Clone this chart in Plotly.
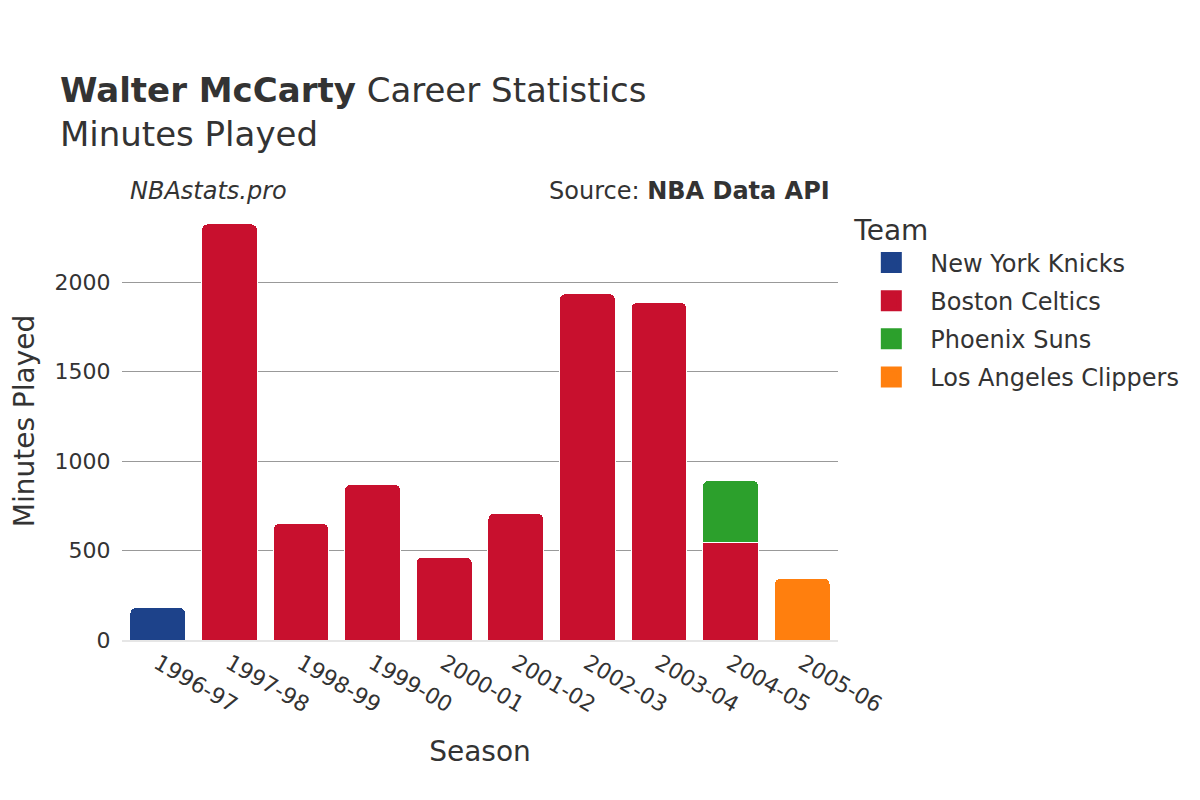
import plotly.graph_objects as go

seasons = ["1996-97", "1997-98", "1998-99", "1999-00", "2000-01",
           "2001-02", "2002-03", "2003-04", "2004-05", "2005-06"]

knicks_seasons = ["1996-97"]
knicks_min = [182]

celtics_seasons = ["1997-98", "1998-99", "1999-00", "2000-01", "2001-02",
                   "2002-03", "2003-04", "2004-05"]
celtics_min = [2327, 651, 871, 464, 708, 1937, 1888, 546]

suns_seasons = ["2004-05"]
suns_min = [348]

clippers_seasons = ["2005-06"]
clippers_min = [345]

teams = ["New York Knicks", "Boston Celtics", "Phoenix Suns", "Los Angeles Clippers"]
colors = ["#1d428a", "#c8102e", "#2ca02c", "#ff7f0e"]

series = [(knicks_seasons, knicks_min), (celtics_seasons, celtics_min),
          (suns_seasons, suns_min), (clippers_seasons, clippers_min)]

fig = go.Figure()
for name, color, (xs, ys) in zip(teams, colors, series):
    fig.add_trace(go.Bar(
        x=xs, y=ys, name=name, legendgroup=name, showlegend=False,
        marker=dict(color=color, cornerradius=6, line=dict(width=1, color="white")),
    ))
# legend entries with larger square symbols
for name, color in zip(teams, colors):
    fig.add_trace(go.Scatter(
        x=[None], y=[None], name=name, legendgroup=name, mode="markers",
        marker=dict(symbol="square", size=16, color=color,
                    line=dict(width=5, color=color)),
        hoverinfo="skip",
    ))

font_family = "DejaVu Sans"
fig.update_layout(
    barmode="stack",
    bargap=0.22,
    width=1200, height=800,
    paper_bgcolor="white", plot_bgcolor="white",
    font=dict(family=font_family, color="#333333", size=22),
    margin=dict(l=114, r=370, t=194, b=168),
    title=dict(
        text="<b>Walter McCarty</b> Career Statistics<br>Minutes Played",
        x=0.0433, xanchor="left", y=0.883, yanchor="top",
        font=dict(size=34, family=font_family, color="#333333"),
    ),
    legend=dict(
        title=dict(text="Team", font=dict(size=28)),
        font=dict(size=24),
        x=1.02, xanchor="left", y=0.9955, yanchor="top",
        traceorder="grouped", tracegroupgap=4, itemsizing="trace",
        itemwidth=68,
    ),
    xaxis=dict(
        title=dict(text="Season", font=dict(size=28), standoff=25),
        categoryorder="array", categoryarray=seasons,
        tickangle=30, tickfont=dict(size=22),
        showgrid=False, showline=True, linecolor="#e6e6e6", linewidth=2,
        automargin=False,
    ),
    yaxis=dict(
        title=dict(text="Minutes Played", font=dict(size=28), standoff=16),
        tickfont=dict(size=22),
        ticks="outside", ticklen=6, tickcolor="rgba(0,0,0,0)",
        showgrid=True, gridcolor="#999999", gridwidth=1,
        zeroline=False, rangemode="tozero",
        tickvals=[0, 500, 1000, 1500, 2000],
        automargin=False,
    ),
    annotations=[
        dict(text="<i>NBAstats.pro</i>", xref="paper", yref="paper",
             x=0.0084, y=1.025, xanchor="left", yanchor="middle",
             showarrow=False, font=dict(size=24, color="#333333")),
        dict(text="Source: <b>NBA Data API</b>", xref="paper", yref="paper",
             x=0.9916, y=1.025, xanchor="right", yanchor="middle",
             showarrow=False, font=dict(size=24, color="#333333")),
    ],
)

fig.write_html("out.html")
